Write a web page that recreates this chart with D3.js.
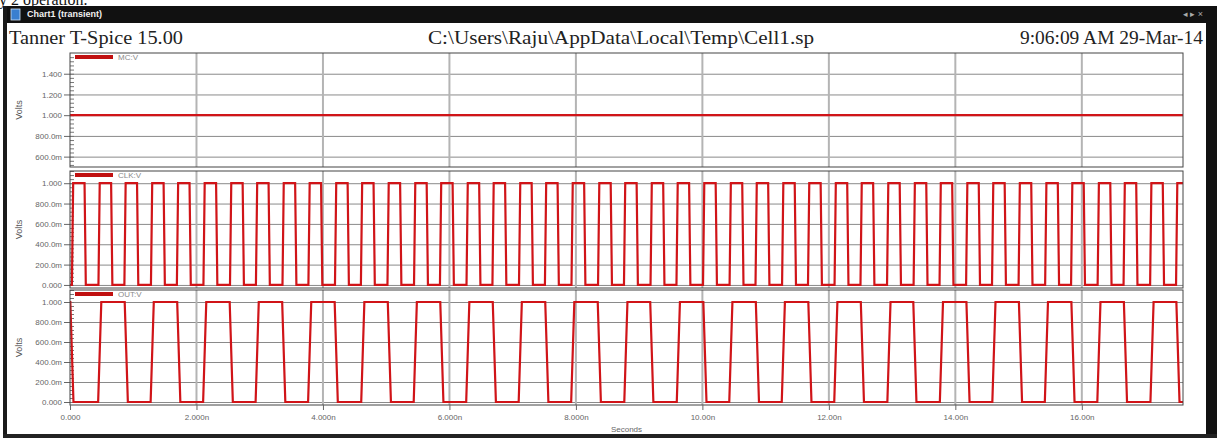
<!DOCTYPE html>
<html>
<head>
<meta charset="utf-8">
<script src="https://cdn.jsdelivr.net/npm/d3@7"></script>
<style>
  body { margin: 0; background: #fff; }
  .tick text { fill: #666; }
</style>
</head>
<body>
<div id="chart"></div>
<script>
// values (time in ns, volts)
const xTicks = [0, 2, 4, 6, 8, 10, 12, 14, 16];
const xTickLabels = ["0.000", "2.000n", "4.000n", "6.000n", "8.000n", "10.00n", "12.00n", "14.00n", "16.00n"];

const mcTicks = [0.6, 0.8, 1.0, 1.2, 1.4];
const mcTickLabels = ["600.0m", "800.0m", "1.000", "1.200", "1.400"];
const vTicks = [0, 0.2, 0.4, 0.6, 0.8, 1.0];
const vTickLabels = ["0.000", "200.0m", "400.0m", "600.0m", "800.0m", "1.000"];

const mcTimes = [0, 17.6];
const mcValues = [1.0, 1.0];

// clock edges
const clkRise = [0.04, 0.46, 0.87, 1.29, 1.70, 2.12, 2.54, 2.95, 3.37, 3.78, 4.20, 4.61, 5.03, 5.45, 5.86,
  6.28, 6.69, 7.11, 7.52, 7.94, 8.36, 8.77, 9.19, 9.60, 10.02, 10.44, 10.85, 11.27, 11.68, 12.10, 12.51,
  12.93, 13.35, 13.76, 14.18, 14.59, 15.01, 15.43, 15.84, 16.26, 16.67, 17.09, 17.50];
const clkFall = [0.24, 0.66, 1.07, 1.49, 1.90, 2.32, 2.74, 3.15, 3.57, 3.98, 4.40, 4.81, 5.23, 5.65, 6.06,
  6.48, 6.89, 7.31, 7.72, 8.14, 8.56, 8.97, 9.39, 9.80, 10.22, 10.64, 11.05, 11.47, 11.88, 12.30, 12.71,
  13.13, 13.55, 13.96, 14.38, 14.79, 15.21, 15.63, 16.04, 16.46, 16.87, 17.29];

// output (divide by two), starts high
const outFall = [0.03, 0.89, 1.72, 2.55, 3.38, 4.21, 5.05, 5.88, 6.71, 7.54, 8.37, 9.20, 10.04, 10.87, 11.70,
  12.53, 13.36, 14.20, 15.03, 15.86, 16.69, 17.52];
const outRise = [0.47, 1.30, 2.13, 2.96, 3.79, 4.63, 5.46, 6.29, 7.12, 7.95, 8.79, 9.62, 10.45, 11.28, 12.11,
  12.95, 13.78, 14.61, 15.44, 16.27, 17.11];

const W = 1217, H = 438;
const plotLeft = 70, plotRight = 1183;
const red = "#d01418";

// turn edge lists into waveform points
function edgesToPoints(rises, falls, startHigh, edge, tEnd) {
  const ev = rises.map(t => ({t, v: 1})).concat(falls.map(t => ({t, v: 0})))
    .sort((a, b) => a.t - b.t);
  let v = startHigh ? 1 : 0;
  const pts = [[0, v]];
  ev.forEach(e => {
    pts.push([e.t - edge / 2, v]);
    pts.push([e.t + edge / 2, e.v]);
    v = e.v;
  });
  pts.push([tEnd, v]);
  return pts;
}

const svg = d3.select("#chart").append("svg")
  .attr("width", W).attr("height", H)
  .style("font-family", "'Liberation Sans', Arial, sans-serif");

svg.append("rect").attr("width", W).attr("height", H).attr("fill", "#fff");

// cropped caption line above the window
svg.append("text").attr("x", -1).attr("y", 5)
  .style("font-family", "'Liberation Serif', serif").style("font-size", "16px")
  .attr("fill", "#111").text("y 2 operation.");

// window frame
svg.append("rect").attr("x", 3).attr("y", 6).attr("width", W - 3).attr("height", 17).attr("fill", "#111");
svg.append("rect").attr("x", 3).attr("y", 6).attr("width", 4).attr("height", H - 6).attr("fill", "#1a1a1a");
svg.append("rect").attr("x", 1206).attr("y", 6).attr("width", 11).attr("height", H - 6).attr("fill", "#111");
svg.append("rect").attr("x", 3).attr("y", 434).attr("width", W - 3).attr("height", 4).attr("fill", "#222");

// title bar icon + text
svg.append("rect").attr("x", 11).attr("y", 9).attr("width", 9).attr("height", 11)
  .attr("fill", "#3a7fd0").attr("stroke", "#cfe0f5").attr("stroke-width", 0.8);
svg.append("text").attr("x", 27).attr("y", 17).attr("fill", "#f0f0f0")
  .style("font-size", "9px").style("font-weight", "bold").text("Chart1 (transient)");
svg.append("text").attr("x", 1203).attr("y", 17).attr("fill", "#aaa").attr("text-anchor", "end")
  .style("font-size", "9px").text("\u25C2 \u25B8 \u00D7");

// header row
const header = svg.append("g").style("font-family", "'Liberation Serif', 'Times New Roman', serif")
  .style("font-size", "18px").attr("fill", "#222");
header.append("text").attr("x", 9).attr("y", 44).attr("textLength", 174)
  .attr("lengthAdjust", "spacingAndGlyphs").text("Tanner T-Spice 15.00");
header.append("text").attr("x", 428).attr("y", 44).attr("textLength", 386)
  .attr("lengthAdjust", "spacingAndGlyphs").text("C:\\Users\\Raju\\AppData\\Local\\Temp\\Cell1.sp");
header.append("text").attr("x", 1020).attr("y", 44).attr("textLength", 183)
  .attr("lengthAdjust", "spacingAndGlyphs").text("9:06:09 AM 29-Mar-14");

const x = d3.scaleLinear().domain([0, 17.6]).range([plotLeft, plotRight]);

const panels = [
  {name: "MC:V", top: 53, bottom: 167, domain: [0.5, 1.6], ticks: mcTicks, labels: mcTickLabels,
    points: mcTimes.map((t, i) => [t, mcValues[i]])},
  {name: "CLK:V", top: 171, bottom: 288, domain: [-0.03, 1.12], ticks: vTicks, labels: vTickLabels,
    points: edgesToPoints(clkRise, clkFall, false, 0.02, 17.6)},
  {name: "OUT:V", top: 290, bottom: 405, domain: [-0.03, 1.12], ticks: vTicks, labels: vTickLabels,
    points: edgesToPoints(outRise, outFall, true, 0.05, 17.6)}
];

panels.forEach((p, pi) => {
  const y = d3.scaleLinear().domain(p.domain).range([p.bottom, p.top]);
  const g = svg.append("g");

  // horizontal grid
  g.append("g")
    .attr("transform", `translate(${plotLeft},0)`)
    .call(d3.axisLeft(y).tickValues(p.ticks).tickSize(-(plotRight - plotLeft)).tickFormat(""))
    .call(a => a.select(".domain").remove())
    .call(a => a.selectAll("line").attr("stroke", "#8a8a8a").attr("stroke-width", 1));

  // vertical grid at major time ticks
  g.selectAll(".vgrid").data(xTicks.slice(1)).enter().append("line")
    .attr("x1", d => x(d)).attr("x2", d => x(d))
    .attr("y1", p.top).attr("y2", p.bottom)
    .attr("stroke", "#b4b4b4").attr("stroke-width", 2);

  // minor ticks inside left edge
  const minor = d3.range(Math.ceil(p.domain[0] / 0.04) * 0.04, p.domain[1], 0.04);
  g.append("g")
    .attr("transform", `translate(${plotLeft},0)`)
    .call(d3.axisLeft(y).tickValues(minor).tickSize(-4).tickFormat(""))
    .call(a => a.select(".domain").remove())
    .call(a => a.selectAll("line").attr("stroke", "#777"));

  // y axis with labels
  g.append("g")
    .attr("transform", `translate(${plotLeft},0)`)
    .call(d3.axisLeft(y).tickValues(p.ticks).tickSize(6).tickPadding(2)
      .tickFormat((d, i) => p.labels[i]))
    .call(a => a.select(".domain").remove())
    .call(a => a.selectAll("line").attr("stroke", "#666"))
    .call(a => a.selectAll("text").style("font-size", "8px").attr("fill", "#666"));

  // Volts
  g.append("text")
    .attr("transform", `translate(22,${(p.top + p.bottom) / 2}) rotate(-90)`)
    .attr("text-anchor", "middle").style("font-size", "9px").attr("fill", "#555").text("Volts");

  // waveform
  const clipId = "clip" + pi;
  svg.append("clipPath").attr("id", clipId).append("rect")
    .attr("x", plotLeft).attr("y", p.top - 2).attr("width", plotRight - plotLeft).attr("height", p.bottom - p.top + 4);
  g.append("path")
    .datum(p.points)
    .attr("clip-path", `url(#${clipId})`)
    .attr("fill", "none")
    .attr("stroke", red)
    .attr("stroke-width", 2.2)
    .attr("stroke-linejoin", "miter")
    .attr("d", d3.line().x(d => x(d[0])).y(d => y(d[1])));

  // frame
  g.append("rect")
    .attr("x", plotLeft).attr("y", p.top)
    .attr("width", plotRight - plotLeft).attr("height", p.bottom - p.top)
    .attr("fill", "none").attr("stroke", "#444").attr("stroke-width", 1);

  // legend
  g.append("line")
    .attr("x1", 75).attr("x2", 113).attr("y1", p.top + 4).attr("y2", p.top + 4)
    .attr("stroke", "#c01010").attr("stroke-width", 4);
  g.append("text").attr("x", 118).attr("y", p.top + 7)
    .style("font-size", "8px").attr("fill", "#8a8a8a").text(p.name);
});

// time axis
const bottom = panels[2].bottom;
svg.append("g")
  .attr("transform", `translate(0,${bottom})`)
  .call(d3.axisBottom(x).tickValues(xTicks).tickSize(5).tickPadding(4)
    .tickFormat((d, i) => xTickLabels[i]))
  .call(a => a.select(".domain").remove())
  .call(a => a.selectAll("line").attr("stroke", "#666"))
  .call(a => a.selectAll("text").style("font-size", "8px").attr("fill", "#666"));

svg.append("text")
  .attr("x", (plotLeft + plotRight) / 2).attr("y", 432)
  .attr("text-anchor", "middle").style("font-size", "8px").attr("fill", "#666").text("Seconds");
</script>
</body>
</html>
